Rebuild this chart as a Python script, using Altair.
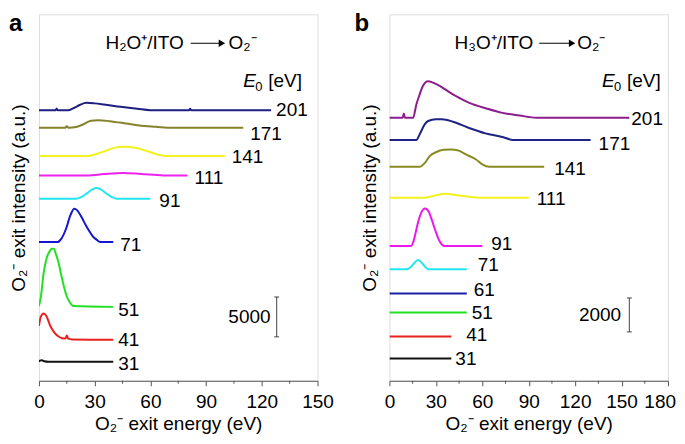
import altair as alt
import pandas as pd

FONT = "Liberation Sans"
GRAY = "#555555"
FS = 19

# ---------------- panel a : H2O+/ITO ----------------
A_E0 = ["31", "41", "51", "71", "91", "111", "141", "171", "201"]
A_COLORS = ["#111111", "#e8231f", "#22e022", "#1414d2", "#22e6f0",
            "#ee22ee", "#f2f21e", "#84822a", "#1e1e82"]
A_OFFSET = [2380, 5140, 9275, 17420, 22850, 25780, 28200, 31750, 33970]
A31_X = [0, 0.5, 1.5, 3, 5, 40]
A31_I = [0, 150, 200, 60, 0, 0]
A41_X = [0, 1, 2.5, 4, 6, 8, 10, 12.5, 14.3, 15, 15.7, 18, 40]
A41_I = [1750, 2900, 3300, 3000, 1800, 1000, 500, 200, 150, 550, 150, 50, 0]
A51_X = [0, 1, 2.5, 4, 5.5, 7, 8, 9, 10.5, 12, 13.5, 15, 16.5, 18.5, 40]
A51_I = [100, 1200, 4200, 6000, 6900, 7300, 7300, 6700, 5600, 4000, 2500, 1300, 600, 100, 0]
A71_X = [0, 10, 12, 14.5, 17, 19, 20.5, 23, 25, 27, 29, 31, 33, 40]
A71_I = [0, 0, 400, 1600, 3400, 4180, 4000, 3100, 2200, 1400, 700, 300, 0, 0]
A91_X = [0, 20, 23, 26, 29, 31, 33, 36, 39, 42, 60]
A91_I = [0, 0, 250, 700, 1200, 1340, 1200, 700, 250, 0, 0]
A111_X = [0, 26, 35, 45, 55, 67, 80]
A111_I = [0, 0, 170, 300, 180, 0, 0]
A141_X = [0, 26, 30, 35, 40, 46, 52, 58, 63, 69, 100]
A141_I = [0, 0, 200, 600, 1000, 1170, 1050, 650, 250, 0, 0]
A171_X = [0, 14, 15, 16, 20, 24, 28, 32, 38, 47, 54, 63, 72, 110]
A171_I = [0, 0, 200, 0, 100, 450, 900, 960, 840, 540, 290, 130, 0, 0]
A201_X = [0, 9, 9.5, 10, 16, 19, 22, 25.5, 30, 35, 44, 53, 60, 80.8, 81.4, 82, 125]
A201_I = [0, 0, 220, 0, 0, 300, 650, 920, 850, 710, 420, 170, 0, 0, 180, 0, 0]
A_XS = [A31_X, A41_X, A51_X, A71_X, A91_X, A111_X, A141_X, A171_X, A201_X]
A_IS = [A31_I, A41_I, A51_I, A71_I, A91_I, A111_I, A141_I, A171_I, A201_I]
A_TICKS = [0, 30, 60, 90, 120, 150]
A_MINOR = [15, 45, 75, 105, 135]
# label nudges in pixels (right, down) from each curve's end point
A_LAB_DX = [5, 5, 5, 7, 9, 7, 7, 7, 5]
A_LAB_DY = [1, -1, 2, 2, 1, 2, 0, 5, -1]

# ---------------- panel b : H3O+/ITO ----------------
B_E0 = ["31", "41", "51", "61", "71", "91", "111", "141", "171", "201"]
B_COLORS = ["#111111", "#e8231f", "#22e022", "#1c1caa", "#22e6f0",
            "#ee18ee", "#f2f21e", "#8a8a22", "#1e2282", "#8c1e8c"]
B_OFFSET = [1310, 2610, 4020, 5140, 6570, 7950, 10790, 12610, 14190, 15500]
B31_X = [0, 40]
B31_I = [0, 0]
B41_X = [0, 40]
B41_I = [0, 0]
B51_X = [0, 50]
B51_I = [0, 0]
B61_X = [0, 50]
B61_I = [0, 0]
B71_X = [0, 11, 14, 16.5, 18.5, 20.5, 23, 25.5, 50]
B71_I = [0, 0, 150, 420, 550, 420, 150, 0, 0]
B91_X = [0, 14, 15.5, 17, 18.5, 20.5, 23, 25.5, 27.5, 29.5, 32, 35.5, 60]
B91_I = [0, 0, 250, 800, 1400, 1950, 2200, 2000, 1500, 950, 350, 0, 0]
B111_X = [0, 23, 30, 36, 45, 58, 90]
B111_I = [0, 0, 150, 240, 130, 0, 0]
B141_X = [0, 19.5, 23, 26, 30, 35, 40, 44, 49.5, 56, 60, 64.5, 100]
B141_I = [0, 0, 240, 630, 860, 1000, 1020, 980, 730, 430, 140, 0, 0]
B171_X = [0, 17.4, 19.5, 22.8, 25, 30, 34, 41, 51, 62, 73, 80, 130]
B171_I = [0, 0, 330, 920, 1120, 1220, 1220, 1080, 720, 390, 180, 0, 0]
B201_X = [0, 8.5, 9.3, 10, 15.3, 17.4, 19.5, 21.6, 25, 30, 41, 51.6, 62.6, 73, 84, 95, 155]
B201_I = [0, 0, 260, 0, 0, 790, 1370, 1870, 2160, 2000, 1380, 880, 550, 290, 140, 0, 0]
B_XS = [B31_X, B41_X, B51_X, B61_X, B71_X, B91_X, B111_X, B141_X, B171_X, B201_X]
B_IS = [B31_I, B41_I, B51_I, B61_I, B71_I, B91_I, B111_I, B141_I, B171_I, B201_I]
B_TICKS = [0, 30, 60, 90, 120, 150, 180]
B_MINOR = [15, 45, 75, 105, 135, 165]
B_LAB_DX = [4, 15, 5, 7, 11, 9, 8, 10, 8, 2]
B_LAB_DY = [-1, -2, -1, -5, -5, -3, 0, 1, 3, 0]

W, H = 279, 367
TICK, LPAD = 5, 7


def panel(letter, letter_x, names, colors, offsets, xs, ys, ldx, ldy, xmax, ticks, minor, ymax,
          bar_val, bar_x, bar_y0, cap, bar_lab_x,
          left_txt, left_x, arrow_x0, arrow_x1, right_x, title_y, e0_x, e0_y, last_flush):
    xscale = alt.Scale(domain=[0, xmax], nice=False, zero=False)
    yscale = alt.Scale(domain=[0, ymax], nice=False, zero=False)
    label_expr = "datum.label"
    if last_flush:
        label_expr = "datum.value == %d ? '' : datum.label" % ticks[-1]
    xaxis = alt.Axis(values=ticks, format="d", title="O₂⁻ exit energy (eV)",
                     grid=False, tickSize=TICK, tickColor=GRAY, domainColor=GRAY,
                     labelFontSize=FS, titleFontSize=FS, labelFont=FONT, titleFont=FONT,
                     titleFontWeight="normal", labelColor="#000", titleColor="#000",
                     labelPadding=LPAD, titlePadding=3, labelFlush=False,
                     labelExpr=label_expr)
    yaxis = alt.Axis(title="O₂⁻ exit intensity (a.u.)", labels=False, ticks=False,
                     domain=False, grid=False, titleFontSize=FS, titleFont=FONT,
                     titleFontWeight="normal", titleColor="#000", titlePadding=10)

    def X(f):
        return alt.X(f, type="quantitative", scale=xscale, axis=xaxis)

    def Y(f):
        return alt.Y(f, type="quantitative", scale=yscale, axis=yaxis)

    px_x = W / xmax
    px_y = H / ymax

    rows = []
    for n, col, off, xx, ii in zip(names, colors, offsets, xs, ys):
        for k, (x, i) in enumerate(zip(xx, ii)):
            rows.append({"c": letter + n, "col": col, "x": x, "y": off + i, "k": k})
    df = pd.DataFrame(rows)
    lab = pd.DataFrame({
        "c": names,
        "x": [xx[-1] + d / px_x for xx, d in zip(xs, ldx)],
        "y": [o - d / px_y for o, d in zip(offsets, ldy)],
    })

    lines = alt.Chart(df).mark_line(strokeWidth=2, interpolate="monotone", clip=True).encode(
        x=X("x"), y=Y("y"),
        color=alt.Color("col:N", scale=None, legend=None),
        detail="c:N", order="k:Q")
    labels = alt.Chart(lab).mark_text(align="left", baseline="middle", dy=1,
                                      fontSize=FS, font=FONT, color="#000").encode(
        x=X("x"), y=Y("y"), text="c:N")

    mdf = pd.DataFrame({"t": minor})
    minor_ticks = alt.Chart(mdf).mark_rule(color=GRAY, strokeWidth=1).encode(
        x=X("t"), y=alt.value(H), y2=alt.value(H + 3))

    bdf = pd.DataFrame({"x": [bar_x], "xa": [bar_x - cap], "xb": [bar_x + cap],
                        "y0": [bar_y0], "y1": [bar_y0 + bar_val],
                        "lx": [bar_lab_x], "ly": [bar_y0 + bar_val / 2], "t": [str(bar_val)]})
    bar = alt.Chart(bdf).mark_rule(color="#444", strokeWidth=1).encode(
        x=X("x"), y=Y("y0"), y2="y1")
    cap0 = alt.Chart(bdf).mark_rule(color="#444", strokeWidth=1).encode(
        x=X("xa"), x2="xb", y=Y("y0"))
    cap1 = alt.Chart(bdf).mark_rule(color="#444", strokeWidth=1).encode(
        x=X("xa"), x2="xb", y=Y("y1"))
    bar_lab = alt.Chart(bdf).mark_text(align="right", baseline="middle", fontSize=FS,
                                       font=FONT, color="#000").encode(
        x=X("lx"), y=Y("ly"), text="t:N")

    tdf = pd.DataFrame({"lx": [left_x], "rx": [right_x], "y": [title_y],
                        "a0": [arrow_x0], "a1": [arrow_x1], "lt": [left_txt], "rt": ["O₂⁻"],
                        "ex": [e0_x], "ey": [e0_y], "last": [ticks[-1]],
                        "lastt": [str(ticks[-1])]})
    t_left = alt.Chart(tdf).mark_text(align="right", baseline="middle", fontSize=FS,
                                      font=FONT, color="#000").encode(
        x=X("lx"), y=Y("y"), text="lt:N")
    t_right = alt.Chart(tdf).mark_text(align="left", baseline="middle", fontSize=FS,
                                       font=FONT, color="#000").encode(
        x=X("rx"), y=Y("y"), text="rt:N")
    arrow_line = alt.Chart(tdf).mark_rule(color="#000", strokeWidth=1).encode(
        x=X("a0"), x2="a1", y=Y("y"))
    arrow_head = alt.Chart(tdf).mark_point(shape="triangle-right", filled=True, size=55,
                                           color="#000", opacity=1).encode(
        x=X("a1"), y=Y("y"))
    e_it = alt.Chart(tdf).mark_text(align="left", baseline="middle", fontSize=FS, font=FONT,
                                    fontStyle="italic", color="#000").encode(
        x=X("ex"), y=Y("ey"), text=alt.value("E"))
    e_sub = alt.Chart(tdf).mark_text(align="left", baseline="middle", fontSize=13, font=FONT,
                                     dx=12, dy=6, color="#000").encode(
        x=X("ex"), y=Y("ey"), text=alt.value("0"))
    e_unit = alt.Chart(tdf).mark_text(align="left", baseline="middle", fontSize=FS, font=FONT,
                                      dx=25, color="#000").encode(
        x=X("ex"), y=Y("ey"), text=alt.value("[eV]"))
    let = alt.Chart(tdf).mark_text(align="left", baseline="alphabetic", fontSize=24,
                                   fontWeight="bold", font=FONT, color="#000").encode(
        x=alt.value(letter_x), y=alt.value(17), text=alt.value(letter))
    layers = [lines, labels, minor_ticks, bar, cap0, cap1, bar_lab,
              t_left, t_right, arrow_line, arrow_head, e_it, e_sub, e_unit, let]
    if last_flush:
        last_lab = alt.Chart(tdf).mark_text(align="right", baseline="top", fontSize=FS,
                                            font=FONT, color="#000", dx=8).encode(
            x=X("last"), y=alt.value(H + TICK + LPAD), text="lastt:N")
        layers.append(last_lab)

    return alt.layer(*layers).properties(width=W, height=H)


pa = panel("a", -30, A_E0, A_COLORS, A_OFFSET, A_XS, A_IS, A_LAB_DX, A_LAB_DY,
           150, A_TICKS, A_MINOR, 46000,
           5000, 128, 5515, 1.3, 124.7,
           "H₂O⁺/ITO", 78, 81.7, 98.5, 102, 42365, 110, 37600, False)
pb = panel("b", -35, B_E0, B_COLORS, B_OFFSET, B_XS, B_IS, B_LAB_DX, B_LAB_DY,
           180, B_TICKS, B_MINOR, 21600,
           2000, 155, 2880, 1.6, 149.7,
           "H₃O⁺/ITO", 92.9, 96.8, 118, 121.3, 19895, 137.4, 17660, True)

chart = alt.hconcat(pa, pb, spacing=72, bounds="flush").properties(
    padding={"left": 0, "top": 3, "right": 0, "bottom": 0}
).configure_view(stroke=GRAY, strokeWidth=1).configure(font=FONT)

chart.save("out.html", embed_options={"renderer": "svg", "actions": False})
